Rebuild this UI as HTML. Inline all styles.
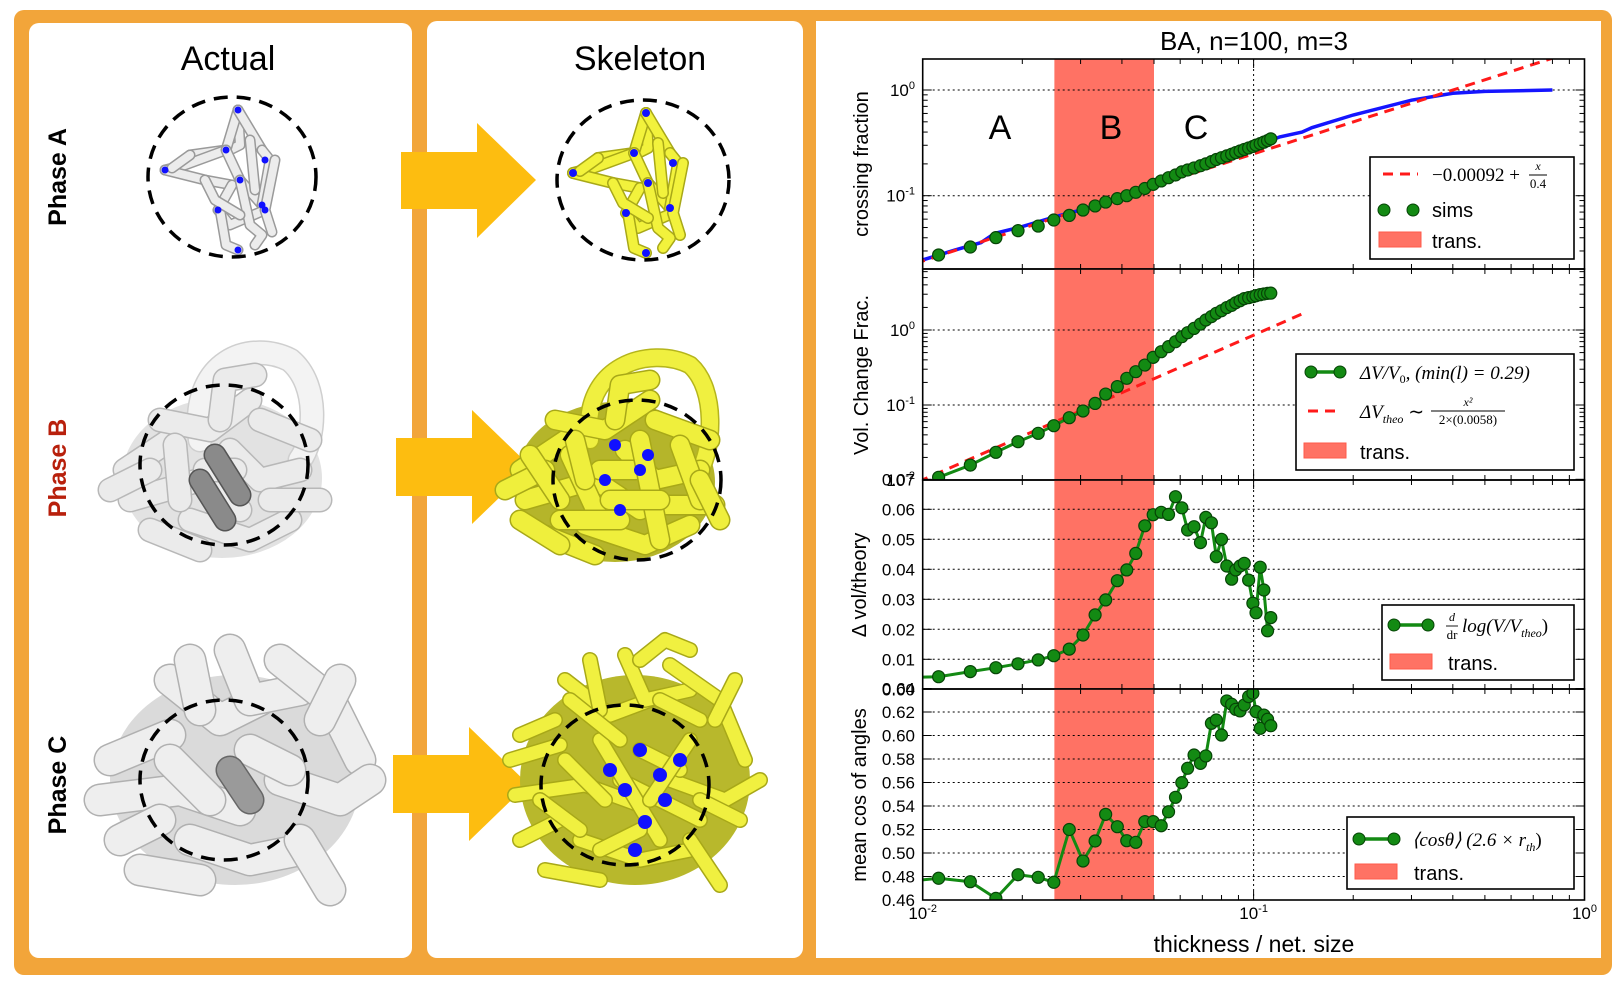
<!DOCTYPE html>
<html><head><meta charset="utf-8">
<style>
html,body{margin:0;padding:0;background:#fff;}
svg{display:block;}
text{font-family:"Liberation Sans",sans-serif;}
.serif{font-family:"Liberation Serif",serif;}
</style></head>
<body>
<svg id="root" width="1620" height="992" viewBox="0 0 1620 992" xmlns="http://www.w3.org/2000/svg">
  <defs>
    <clipPath id="c1"><rect x="922.7" y="59" width="661.8" height="210"/></clipPath>
    <clipPath id="c2"><rect x="922.7" y="269" width="661.8" height="211"/></clipPath>
    <clipPath id="c3"><rect x="922.7" y="480" width="661.8" height="209"/></clipPath>
    <clipPath id="c4"><rect x="922.7" y="689" width="661.8" height="211"/></clipPath>
  </defs>
  <rect x="0" y="0" width="1620" height="992" fill="#fff"/>
  <rect x="14" y="10" width="1598" height="965" rx="10" fill="#F2A53A"/>
  <rect x="29" y="23" width="383" height="935" rx="10" fill="#fff"/>
  <rect x="427" y="21" width="376" height="937" rx="10" fill="#fff"/>
  <rect x="816" y="21" width="785" height="937" fill="#fff"/>

  <text x="228" y="70" font-size="34" text-anchor="middle">Actual</text>
  <text x="640" y="70" font-size="34" text-anchor="middle">Skeleton</text>
  <text transform="translate(66,177) rotate(-90)" font-size="25" font-weight="bold" text-anchor="middle" fill="#000">Phase A</text>
  <text transform="translate(66,468) rotate(-90)" font-size="25" font-weight="bold" text-anchor="middle" fill="#B8200C">Phase B</text>
  <text transform="translate(66,785) rotate(-90)" font-size="25" font-weight="bold" text-anchor="middle" fill="#000">Phase C</text>

  <g fill="#FDBD10">
    <path d="M401 152 H477 V123 L536 180 L477 238 V209 H401 Z"/>
    <path d="M396 438 H472 V410 L531 467 L472 524 V496 H396 Z"/>
    <path d="M393 755 H469 V727 L528 784 L469 841 V813 H393 Z"/>
  </g>

  <g id="blobs"></g>

  <g id="chart"></g>
</svg>
<script>
// ---- chart data ----
const xThick = [0.01117,0.01393,0.01664,0.01941,0.02234,0.0249,0.02773,0.03051,0.03319,0.03572,0.03874,0.04137,0.04404,0.0469,0.04973,0.05257,0.05533,0.05807,0.06068,0.06318,0.06607,0.06909,0.07172,0.07456,0.07714,0.07998,0.08297,0.08582,0.0883,0.091,0.0937,0.0966,0.0995,0.1017,0.1047,0.1074,0.1102,0.1127];
const simsCross = [0.0275,0.0327,0.0401,0.0467,0.0516,0.0589,0.0651,0.0732,0.080,0.0871,0.0938,0.100,0.1076,0.117,0.128,0.138,0.148,0.157,0.168,0.175,0.183,0.192,0.200,0.210,0.220,0.229,0.238,0.247,0.256,0.265,0.274,0.283,0.292,0.301,0.311,0.321,0.332,0.345];
const blueX = [0.0095,0.0125,0.0150,0.0165,0.02,0.025,0.03,0.04,0.05,0.07,0.1,0.12,0.14,0.15,0.2,0.3,0.4,0.5,0.8];
const blueY = [0.0235,0.0306,0.036,0.044,0.051,0.063,0.073,0.098,0.121,0.187,0.29,0.36,0.40,0.44,0.58,0.80,0.93,0.97,1.0];
const fitX = [0.0095,0.02,0.05,0.1,0.2,0.5,0.8];
const fitY = [0.0228,0.0491,0.1241,0.2491,0.4991,1.2491,1.9991];
const volFrac = [0.01086,0.0158,0.0234,0.0324,0.0419,0.053,0.0677,0.0832,0.105,0.140,0.176,0.227,0.278,0.341,0.432,0.514,0.60,0.699,0.815,0.921,1.05,1.20,1.36,1.51,1.67,1.81,1.99,2.13,2.31,2.46,2.62,2.70,2.78,2.87,2.96,3.02,3.08,3.10];
const theoX = [0.0097,0.145];
const theoY = [0.0095,1.75];
const dVol = [0.0042,0.0059,0.0072,0.0085,0.0098,0.0112,0.0134,0.0181,0.0248,0.0298,0.0362,0.0398,0.0453,0.0545,0.0582,0.059,0.0583,0.0642,0.0605,0.0531,0.0542,0.0489,0.0573,0.0555,0.0442,0.050,0.0411,0.0367,0.0398,0.0411,0.042,0.0364,0.0287,0.0255,0.0407,0.0331,0.0195,0.0239];
const cosAng = [0.4785,0.4756,0.4614,0.4815,0.4793,0.4751,0.520,0.4932,0.5102,0.5329,0.5224,0.5105,0.5091,0.5267,0.5267,0.5232,0.5351,0.5474,0.5599,0.5721,0.5834,0.5763,0.5826,0.6104,0.6132,0.6004,0.6294,0.6266,0.6223,0.6209,0.626,0.6331,0.636,0.6203,0.6061,0.6174,0.6138,0.6083];
const transRange = [0.025, 0.05];
const ticks3 = [0.00,0.01,0.02,0.03,0.04,0.05,0.06,0.07];
const ticks4 = [0.46,0.48,0.50,0.52,0.54,0.56,0.58,0.60,0.62,0.64];

const NS = "http://www.w3.org/2000/svg";
function el(tag, attrs, parent){ const e=document.createElementNS(NS,tag); for(const k in attrs) e.setAttribute(k,attrs[k]); parent.appendChild(e); return e; }

const AX_L=922.7, AX_R=1584.5;
function xs(v){ return AX_L + (Math.log10(v)+2)/2*(AX_R-AX_L); }
const panels = [
  {top:59,bot:269,y:v=>90-Math.log10(v)*105.7,clip:"c1"},
  {top:269,bot:480,y:v=>330-Math.log10(v)*75,clip:"c2"},
  {top:480,bot:689,y:v=>689.3-v*3000,clip:"c3"},
  {top:689,bot:900,y:v=>900-(v-0.46)*1175,clip:"c4"}
];
const chart=document.getElementById('chart');

function lineThrough(g, X, Y, ys, attrs){
  let d=''; X.forEach((x,i)=>{ d+=(i?'L':'M')+xs(x).toFixed(1)+' '+ys(Y[i]).toFixed(1); });
  return el('path',Object.assign({d:d,fill:'none'},attrs),g);
}

panels.forEach((p,pi)=>{
  const g=el('g',{},chart);
  
  
  const cg=el('g',{'clip-path':'url(#'+p.clip+')'},g);
  const band=el('rect',{x:xs(transRange[0]),y:p.top,width:xs(transRange[1])-xs(transRange[0]),height:p.bot-p.top,fill:'#FF7264'},cg);
  
  
  el('line',{x1:xs(0.1),x2:xs(0.1),y1:p.top,y2:p.bot,stroke:'#000','stroke-width':1,'stroke-dasharray':'2 3'},cg);
  for(let d=-2; d<0; d++){ for(let k=1;k<=9;k++){ const x=xs(k*Math.pow(10,d)); const L=k===1?9:5;
    el('line',{x1:x,x2:x,y1:p.top,y2:p.top+L,stroke:'#000','stroke-width':1},g);
    el('line',{x1:x,x2:x,y1:p.bot,y2:p.bot-L,stroke:'#000','stroke-width':1},g); } }
  p.g=g; p.cg=cg;
});

function hgrid(p, v, label, sup){
  const y=p.y(v);
  el('line',{x1:AX_L,x2:AX_R,y1:y,y2:y,stroke:'#000','stroke-width':1,'stroke-dasharray':'2 3'},p.cg);
  el('line',{x1:AX_L,x2:AX_L+9,y1:y,y2:y,stroke:'#000'},p.g);
  el('line',{x1:AX_R,x2:AX_R-9,y1:y,y2:y,stroke:'#000'},p.g);
  const t=el('text',{x:915,y:y+6,'font-size':17,'text-anchor':'end'},p.g);
  
  
  t.textContent=label;
  if(sup){ const s=el('tspan',{dy:-7,'font-size':11},t); s.textContent=sup; }
}
hgrid(panels[0],1,'10','0'); hgrid(panels[0],0.1,'10','-1');
hgrid(panels[1],1,'10','0'); hgrid(panels[1],0.1,'10','-1'); hgrid(panels[1],0.01,'10','-2');
ticks3.forEach(v=>hgrid(panels[2],v,v.toFixed(2)));
ticks4.forEach(v=>hgrid(panels[3],v,v.toFixed(2)));
[[0,[-2,-1,0]],[1,[-2,-1,0]]].forEach(([pi,decs])=>{ const p=panels[pi];
  decs.forEach(d=>{ for(let k=2;k<=9;k++){ const y=p.y(k*Math.pow(10,d)); if(y<p.top||y>p.bot) continue;
    el('line',{x1:AX_L,x2:AX_L+5,y1:y,y2:y,stroke:'#000'},p.g); el('line',{x1:AX_R,x2:AX_R-5,y1:y,y2:y,stroke:'#000'},p.g);} }); });

function markers(p, X, Y, name){
  X.forEach((x,i)=>{ const c=el('circle',{cx:xs(x),cy:p.y(Y[i]),r:6,fill:'#138A13',stroke:'#064406','stroke-width':1.2},p.cg);
    
     });
}
{ const p=panels[0];
  const bl=lineThrough(p.cg,blueX,blueY,p.y,{stroke:'#1515FF','stroke-width':3.5});
  
  
  const rf=lineThrough(p.cg,fitX,fitY,p.y,{stroke:'#FF1A1A','stroke-width':3,'stroke-dasharray':'10 7'});
  
  
  markers(p,xThick,simsCross,'sims-point');
}
{ const p=panels[1];
  const rf=lineThrough(p.cg,theoX,theoY,p.y,{stroke:'#FF1A1A','stroke-width':3,'stroke-dasharray':'10 7'});
  
  
  const gl=lineThrough(p.cg,xThick,volFrac,p.y,{stroke:'#138A13','stroke-width':3});
  
  
  markers(p,xThick,volFrac,'vol-change-point');
}
{ const p=panels[2];
  const gl=lineThrough(p.cg,[0.0095].concat(xThick),[0.0040].concat(dVol),p.y,{stroke:'#138A13','stroke-width':3});
  
  
  markers(p,xThick,dVol,'dvol-point');
}
{ const p=panels[3];
  const gl=lineThrough(p.cg,[0.0095].concat(xThick),[0.4765].concat(cosAng),p.y,{stroke:'#138A13','stroke-width':3});
  
  
  markers(p,xThick,cosAng,'cos-angle-point');
}
panels.forEach(p=>{ el('rect',{x:AX_L,y:p.top,width:AX_R-AX_L,height:p.bot-p.top,fill:'none',stroke:'#000','stroke-width':1.6},p.g); });

[[0.01,'-2'],[0.1,'-1'],[1,'0']].forEach(([v,s])=>{ const t=el('text',{x:xs(v),y:919,'font-size':17,'text-anchor':'middle'},chart);
  
  
  t.textContent='10'; const sp=el('tspan',{dy:-7,'font-size':11},t); sp.textContent=s; });

function txt(x,y,size,str,name,extra){ const t=el('text',Object.assign({x:x,y:y,'font-size':size},extra||{}),chart);
  
  
  t.textContent=str; return t; }
function rich(x,y,parts,name){ // parts: [str, size, dy, italic]
  const t=el('text',{x:x,y:y,'class':'serif'},chart);
  
  
  parts.forEach(pt=>{ const s=el('tspan',{'font-size':pt[1],dy:pt[2]||0,'font-style':pt[3]?'italic':'normal'},t); s.textContent=pt[0]; });
  return t;
}
txt(1254,50,26,'BA, n=100, m=3','chart-title',{'text-anchor':'middle'});
txt(1254,952,23,'thickness / net. size','x-axis-title',{'text-anchor':'middle'});
txt(0,0,20,'crossing fraction','y-axis-title-1',{'text-anchor':'middle',transform:'translate(868,164) rotate(-90)'});
txt(0,0,20,'Vol. Change Frac.','y-axis-title-2',{'text-anchor':'middle',transform:'translate(868,375) rotate(-90)'});
txt(0,0,20,'\u0394 vol/theory','y-axis-title-3',{'text-anchor':'middle',transform:'translate(866,585) rotate(-90)'});
txt(0,0,20,'mean cos of angles','y-axis-title-4',{'text-anchor':'middle',transform:'translate(866,795) rotate(-90)'});
txt(1000,139,34,'A','region-a-label',{'text-anchor':'middle'});
txt(1111,139,34,'B','region-b-label',{'text-anchor':'middle'});
txt(1196,139,34,'C','region-c-label',{'text-anchor':'middle'});

function legendBox(x,y,w,h,name){ const r=el('rect',{x:x,y:y,width:w,height:h,fill:'#fff',stroke:'#000','stroke-width':1.6},chart);
  
   }
function patch(x,y){ el('rect',{x:x,y:y,width:42,height:15,fill:'#FF7264',stroke:'#FF5A4A'},chart); }
function greenKey(x1,x2,y){ el('line',{x1:x1,x2:x2,y1:y,y2:y,stroke:'#138A13','stroke-width':3.5},chart);
  el('circle',{cx:x1,cy:y,r:6,fill:'#138A13',stroke:'#064406'},chart); el('circle',{cx:x2,cy:y,r:6,fill:'#138A13',stroke:'#064406'},chart); }
function redKey(x1,x2,y){ el('line',{x1:x1,x2:x2,y1:y,y2:y,stroke:'#FF1A1A','stroke-width':3,'stroke-dasharray':'10 7'},chart); }
function frac(cx,y,num,den,w,name){
  const a=el('text',{x:cx,y:y-5,'font-size':12,'text-anchor':'middle','class':'serif','font-style':'italic'},chart);
  
  
  a.textContent=num;
  el('line',{x1:cx-w/2,x2:cx+w/2,y1:y,y2:y,stroke:'#000','stroke-width':0.9},chart);
  const b=el('text',{x:cx,y:y+13,'font-size':13,'text-anchor':'middle','class':'serif'},chart);
  
  
  b.textContent=den;
}

// legend 1
legendBox(1370,157,204,102,'legend-crossing');
redKey(1383,1418,174);
rich(1432,181,[['\u22120.00092 + ',19,0,false]],'legend-fit-label');
frac(1538,175,'x','0.4',18,'legend-fit-frac');
el('circle',{cx:1384,cy:210,r:6,fill:'#138A13',stroke:'#064406'},chart);
el('circle',{cx:1413,cy:210,r:6,fill:'#138A13',stroke:'#064406'},chart);
txt(1432,217,20,'sims','legend-sims-label');
patch(1379,232); txt(1432,248,20,'trans.','legend-trans-label-1');

// legend 2
legendBox(1296,354,278,116,'legend-volume');
greenKey(1311,1340,372);
rich(1360,379,[['\u0394V/V',19,0,true],['0',12,4,false],[', (min(l) = 0.29)',19,-4,true]],'legend-vol-label');
redKey(1308,1342,411);
rich(1360,418,[['\u0394V',19,0,true],['theo',12,5,true],[' \u223C',19,-5,false]],'legend-theo-label');
frac(1468,411,'x\u00B2','2\u00D7(0.0058)',74,'legend-theo-frac');
patch(1304,443); txt(1360,459,20,'trans.','legend-trans-label-2');

// legend 3
legendBox(1382,605,192,75,'legend-dvol');
greenKey(1394,1428,625);
frac(1452,626,'d','dr',12,'legend-ddr');
rich(1462,632,[['log(V/V',19,0,true],['theo',12,5,true],[')',19,-5,false]],'legend-dvol-label');
patch(1390,654); txt(1448,670,20,'trans.','legend-trans-label-3');

// legend 4
legendBox(1347,817,227,72,'legend-cos');
greenKey(1359,1394,839);
rich(1412,846,[['\u27E8cos\u03B8\u27E9 (2.6 \u00D7 r',19,0,true],['th',12,5,true],[')',19,-5,false]],'legend-cos-label');
patch(1355,864); txt(1414,880,20,'trans.','legend-trans-label-4');

// ---- network renderings (illustrations) ----
const blobs=document.getElementById('blobs');
function tubes(segs, fill, edge, w){
  const g=el('g',{fill:'none','stroke-linecap':'round','stroke-linejoin':'round'},blobs);
  segs.forEach(d=>{ el('path',{d:d,stroke:edge,'stroke-width':w+3},g); el('path',{d:d,stroke:fill,'stroke-width':w},g); });
  return g;
}
function dots(pts,r){ pts.forEach(p=>el('circle',{cx:p[0],cy:p[1],r:r,fill:'#1010FF'},blobs)); }
function ell(cx,cy,rx,ry,name){ const e=el('ellipse',{cx:cx,cy:cy,rx:rx,ry:ry,fill:'none',stroke:'#000','stroke-width':3.5,'stroke-dasharray':'14 9'},blobs);
  
   }
function shift(segs,dx,dy){ return segs.map(s=>s.replace(/(-?\d+\.?\d*) (-?\d+\.?\d*)/g,(m,a,b)=>(+a+dx)+' '+(+b+dy))); }

// phase A
const segA=["M238 110 L240 145 L230 150","M238 110 L226 150 L190 155","M238 110 L262 150","M226 150 L185 165 L165 170","M165 170 L205 180 L232 185","M226 150 L240 180 L262 205","M262 150 L270 160 L262 205","M232 185 L218 210 L230 225 L265 210","M240 180 L250 225 L262 235 L255 245","M220 210 L226 245 L238 250","M190 155 L172 168","M275 160 L265 210 L272 232","M205 180 L215 200 L240 215","M250 140 L255 190"];
tubes(segA,'#ECECEC','#9A9A9A',8);
dots([[238,110],[226,150],[265,160],[240,180],[218,210],[262,205],[265,210],[238,250],[165,170]],3.5);
ell(232,177,84,80,'ellipse-actual-a');
tubes(shift(segA,408,3),'#F2F23C','#A8A818',9);
dots([[646,113],[634,153],[673,163],[648,183],[626,213],[670,208],[646,253],[573,173]],4);
ell(643,180,86,80,'ellipse-skeleton-a');

// phase B actual
el('ellipse',{cx:222,cy:478,rx:100,ry:80,fill:'#E2E2E2'},blobs);
tubes(["M200 440 C190 360,250 340,290 360 C320 385,315 440,300 460"],'#F3F3F3','#CFCFCF',22);
tubes(["M125 470 L170 440","M130 500 L200 480 L240 510","M160 420 L210 430 L250 400","M190 520 L250 540 L290 520","M230 450 L260 480 L300 470","M150 530 L200 550","M220 420 L225 380 L255 375","M260 420 L310 440","M110 490 L150 470","M270 500 L320 500","M205 470 L235 470","M175 445 L180 500"],'#EBEBEB','#B8B8B8',22);
tubes(["M200 480 L225 520","M215 455 L240 495"],'#8A8A8A','#555',20);
ell(224,465,84,80,'ellipse-actual-b');

// phase B skeleton
el('ellipse',{cx:615,cy:482,rx:100,ry:80,fill:'#B5B52A'},blobs);
tubes(["M590 440 C580 365,650 345,690 365 C718 390,712 450,700 470"],'#F0F040','#B5B51C',16);
tubes(["M520 470 L565 440","M525 500 L595 480 L640 510","M555 420 L605 430 L650 400","M585 525 L645 545 L690 525","M625 450 L655 480 L700 470","M545 535 L595 555","M615 420 L620 385 L650 380","M655 420 L710 440","M505 490 L545 470","M665 505 L715 505","M600 470 L635 470","M570 455 L600 520","M640 440 L660 540","M530 455 L560 500","M680 445 L700 500","M560 520 L620 520","M610 500 L660 500","M575 440 L585 480","M700 480 L720 520","M520 520 L560 545"],'#EFEF3C','#A8A818',18);
dots([[615,445],[640,470],[605,480],[620,510],[648,455]],6);
ell(637,480,84,80,'ellipse-skeleton-b');

// phase C actual
el('ellipse',{cx:235,cy:780,rx:125,ry:105,fill:'#DADADA'},blobs);
tubes(["M110 760 L170 735","M100 800 L180 790 L240 810","M170 680 L220 720 L260 700","M230 650 L250 700 L300 690","M280 660 L330 700 L360 760","M190 840 L250 860 L300 850","M140 870 L200 880","M280 780 L340 800 L370 780","M300 840 L330 890","M170 760 L210 800","M250 750 L290 770","M120 840 L160 820","M200 710 L190 660","M320 720 L340 680"],'#EEEEEE','#B0B0B0',30);
tubes(["M230 770 L250 800"],'#9A9A9A','#666',26);
ell(224,780,84,80,'ellipse-actual-c');

// phase C skeleton
el('ellipse',{cx:635,cy:780,rx:115,ry:105,fill:'#B8B82C'},blobs);
tubes(["M510 760 L560 745","M515 795 L585 785 L640 805","M565 680 L610 715 L650 700","M625 655 L645 700 L690 690","M670 665 L720 700 L745 760","M580 840 L640 860 L690 850","M545 870 L600 880","M670 780 L725 800 L760 780","M690 840 L720 885","M565 760 L605 800","M640 750 L680 770","M520 840 L560 820","M600 710 L590 660","M715 720 L735 680","M640 660 L665 640 L690 650","M555 720 L520 735","M620 780 L700 820","M600 740 L660 840","M690 740 L650 800","M540 800 L580 830","M700 800 L740 820","M570 700 L620 740","M660 700 L700 720","M600 850 L640 830"],'#F0F040','#A8A818',13);
dots([[640,750],[660,775],[625,790],[665,800],[645,822],[610,770],[680,760],[635,850]],7);
ell(625,785,84,80,'ellipse-skeleton-c');
</script>
</body></html>
